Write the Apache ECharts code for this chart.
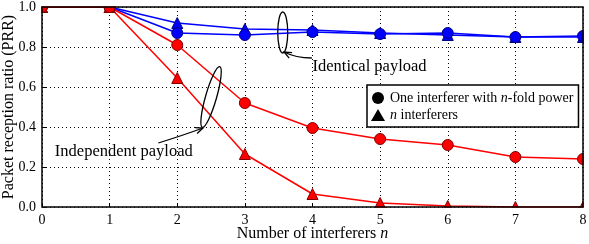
<!DOCTYPE html>
<html><head><meta charset="utf-8">
<script src="https://cdn.jsdelivr.net/npm/echarts@6/dist/echarts.min.js"></script>
<style>html,body{margin:0;padding:0;background:#fff}#c{width:589px;height:244px}</style>
</head><body><div id="c"></div>
<script>
var categories = [0, 1, 2, 3, 4, 5, 6, 7, 8];
var identOneFold = [1.0, 1.0, 0.87, 0.86, 0.875, 0.865, 0.87, 0.85, 0.855];
var identNInterf = [1.0, 1.0, 0.92, 0.89, 0.885, 0.87, 0.86, 0.85, 0.85];
var indepOneFold = [1.0, 1.0, 0.81, 0.52, 0.395, 0.34, 0.31, 0.25, 0.24];
var indepNInterf = [1.0, 1.0, 0.645, 0.265, 0.065, 0.02, 0.005, 0.0, 0.0];
var yTicks = [0.0, 0.2, 0.4, 0.6, 0.8, 1.0];

function pairs(v){ return categories.map(function(x,i){ return [x, v[i]]; }); }
var F = '"Liberation Serif", "DejaVu Serif", serif';
var chart = echarts.init(document.getElementById('c'));
function ser(name, data, color, border, sym){
  return {name:name, type:'line', data:pairs(data), symbol:sym, symbolSize: 11,
    lineStyle:{color:color, width:1.5}, itemStyle:{color:color, borderColor:border, borderWidth:1},
    emphasis:{disabled:true}, z:3, clip:false};
}
var GL = 42, GR = 6, GT = 7, GB = 37;
chart.setOption({
  animation:false,
  grid:{left:GL, right:GR, top:GT, bottom:GB, outerBoundsMode:'none', containLabel:false},
  xAxis:{type:'value', min:0, max:8, interval:1,
    name:'{t|Number of interferers }{i|n}', nameLocation:'middle', nameGap:19, nameMoveOverlap:false,
    nameTextStyle:{rich:{t:{fontFamily:F, fontSize:16, color:'#000'}, i:{fontFamily:F, fontSize:16, fontStyle:'italic', color:'#000'}}},
    axisLine:{show:false}, axisTick:{inside:true, length:4, lineStyle:{color:'#000'}},
    axisLabel:{fontFamily:F, fontSize:14, color:'#000', margin:6},
    splitLine:{show:true, lineStyle:{color:'#000', type:[1,3], width:1}}},
  yAxis:{type:'value', min:0, max:1, interval:0.2,
    name:'Packet reception ratio (PRR)', nameLocation:'middle', nameGap:25, nameMoveOverlap:false,
    nameTextStyle:{fontFamily:F, fontSize:16, color:'#000'},
    axisLine:{show:false}, axisTick:{inside:true, length:4, lineStyle:{color:'#000'}},
    axisLabel:{fontFamily:F, fontSize:14, color:'#000', margin:6, formatter:function(v){return v.toFixed(1);}},
    splitLine:{show:true, lineStyle:{color:'#000', type:[1,3], width:1}}},
  legend:{orient:'vertical', left:367, top:85, padding:[6,5,5,4], itemGap:3, itemWidth:14, itemHeight:12,
    borderColor:'#000', borderWidth:1.5, backgroundColor:'#fff',
    data:[{name:'one', icon:'circle'}, {name:'nint', icon:'triangle'}],
    formatter:function(n){ return n==='one' ? '{t|One interferer with }{i|n}{t|-fold power}' : '{i|n}{t| interferers}'; },
    textStyle:{rich:{t:{fontFamily:F, fontSize:14, color:'#000'}, i:{fontFamily:F, fontSize:14, fontStyle:'italic', color:'#000'}}}},
  series:[
    {name:'one', type:'line', data:[], itemStyle:{color:'#000'}, symbol:'circle'},
    {name:'nint', type:'line', data:[], itemStyle:{color:'#000'}, symbol:'triangle'},
    ser('identN', identNInterf, '#0000ff', '#000080', 'triangle'),
    ser('identOne', identOneFold, '#0000ff', '#000080', 'circle'),
    ser('indepN', indepNInterf, '#ff0000', '#800000', 'triangle'),
    ser('indepOne', indepOneFold, '#ff0000', '#800000', 'circle')
  ]
});
// annotation anchors in data coordinates
function P(x,y){ return chart.convertToPixel({gridIndex:0}, [x,y]); }
var e1 = P(3.56, 0.8725), e2 = P(2.5, 0.55);
var a1s = P(3.99, 0.745), a1c = P(3.75, 0.745), a1e = P(3.58, 0.775);
var a2s = P(1.72, 0.32), a2c = P(2.1, 0.36), a2e = P(2.38, 0.395);
var t1 = P(4.0, 0.7), t2 = P(0.19, 0.275);
var p00 = P(0, 0), p11 = P(8, 1);
var W = 589, H = 244;
function arrowHead(s, e){
  var ang = Math.atan2(e[1]-s[1], e[0]-s[0]), L=8, w=0.4;
  return [[e[0]-L*Math.cos(ang-w), e[1]-L*Math.sin(ang-w)], e, [e[0]-L*Math.cos(ang+w), e[1]-L*Math.sin(ang+w)]];
}
var mask = {fill:'#fff', stroke:null};
var x0 = p00[0], x1 = p11[0], yT = p11[1], yB = p00[1];
chart.setOption({graphic:[
  // white masks that clip markers to the plotting area
  {type:'rect', shape:{x:x0-6, y:0, width:W-(x0-6), height:yT-0.75}, style:mask, z:50, silent:true},
  {type:'rect', shape:{x:x0-6, y:0, width:5.25, height:yB+6}, style:mask, z:50, silent:true},
  {type:'rect', shape:{x:x1+0.75, y:0, width:W-x1, height:yB+6}, style:mask, z:50, silent:true},
  {type:'rect', shape:{x:x0-6, y:yB+0.75, width:W-(x0-6), height:5.25}, style:mask, z:50, silent:true},
  {type:'rect', shape:{x:x0, y:yT, width:x1-x0, height:yB-yT}, style:{fill:null, stroke:'#000', lineWidth:1.5}, z:51, silent:true},
  {type:'ellipse', shape:{cx:e1[0], cy:e1[1], rx:5, ry:20.5}, style:{fill:null, stroke:'#000', lineWidth:1.3}, z:52},
  {type:'ellipse', x:e2[0], y:e2[1], rotation:-0.28, shape:{cx:0, cy:0, rx:5.5, ry:31.5}, style:{fill:null, stroke:'#000', lineWidth:1.3}, z:52},
  {type:'bezierCurve', shape:{x1:a1s[0], y1:a1s[1], x2:a1e[0], y2:a1e[1], cpx1:a1c[0], cpy1:a1c[1]}, style:{stroke:'#000', lineWidth:1.3, fill:null}, z:52},
  {type:'polyline', shape:{points:arrowHead(a1c, a1e)}, style:{stroke:'#000', lineWidth:1.3, fill:null}, z:52},
  {type:'bezierCurve', shape:{x1:a2s[0], y1:a2s[1], x2:a2e[0], y2:a2e[1], cpx1:a2c[0], cpy1:a2c[1]}, style:{stroke:'#000', lineWidth:1.3, fill:null}, z:52},
  {type:'polyline', shape:{points:arrowHead(a2c, a2e)}, style:{stroke:'#000', lineWidth:1.3, fill:null}, z:52},
  {type:'text', x:t1[0], y:t1[1], style:{text:'Identical payload', font:'16.5px '+F, fill:'#000', verticalAlign:'middle'}, z:52},
  {type:'text', x:t2[0], y:t2[1], style:{text:'Independent payload', font:'16.5px '+F, fill:'#000', verticalAlign:'middle'}, z:52}
]});
</script></body></html>
